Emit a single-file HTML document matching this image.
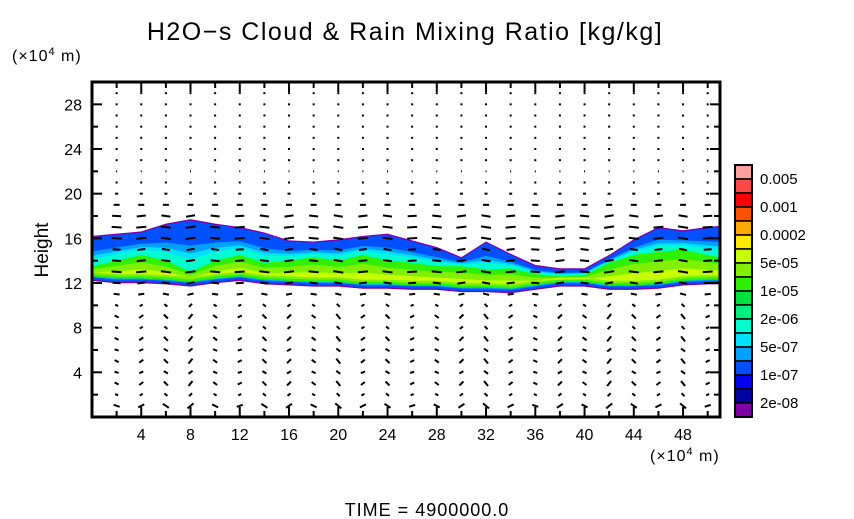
<!DOCTYPE html>
<html><head><meta charset="utf-8"><style>
body{margin:0;background:#fff;}
svg{display:block;font-family:"Liberation Sans",sans-serif;}
</style></head><body>
<svg id="chart" width="854" height="519" viewBox="0 0 854 519">
<text x="405" y="40" font-size="25" text-anchor="middle" letter-spacing="1.5">H2O−s Cloud &amp; Rain Mixing Ratio [kg/kg]</text>
<text x="12" y="61" font-size="16" letter-spacing="1">(×10<tspan font-size="11" dy="-6">4</tspan><tspan dy="6"> m)</tspan></text>
<text x="48" y="250" font-size="19" text-anchor="middle" transform="rotate(-90 48 250)">Height</text>
<text x="650" y="461" font-size="16" letter-spacing="1">(×10<tspan font-size="11" dy="-6">4</tspan><tspan dy="6"> m)</tspan></text>
<text x="427" y="516" font-size="18" text-anchor="middle" letter-spacing="1">TIME = 4900000.0</text>
<g id="cloud"></g>
<g id="vectors"></g>
<g id="axes"></g>
<g id="cbar"></g>
</svg>
<script>
const xTicks=[4,8,12,16,20,24,28,32,36,40,44,48];
const yTicks=[4,8,12,16,20,24,28];
const cloudX=[0,2,4,6,8,10,12,14,16,18,20,22,24,26,28,30,32,34,36,38,40,42,44,46,48,50,51];
const cloudTop=[16.1,16.3,16.5,17.2,17.6,17.2,16.9,16.4,15.7,15.6,15.8,16.1,16.3,15.7,15.1,14.2,15.6,14.5,13.5,13.2,13.2,14.4,15.8,16.9,16.6,16.9,17.0];
const cloudBot=[12.3,12.1,12.1,12.0,11.8,12.1,12.3,12.0,11.9,11.8,11.8,11.6,11.6,11.5,11.5,11.3,11.3,11.2,11.5,11.8,11.8,11.5,11.5,11.6,11.9,12.0,12.0];
const greenTop=[13.5,14.0,14.5,14.0,13.0,14.0,14.5,13.8,14.0,14.3,14.0,14.5,14.0,13.8,13.5,13.5,13.2,13.3,12.8,12.6,12.7,13.8,14.5,14.8,15.0,14.5,14.3];
const uProfile=[0,-6,-3,-4,-4,-4,-4,-4,-3,-4,-3,-6,-8,-10,-9,-8,-10,-10,-9,-6,-3,-2,-1,0,0,0,0,0,0,0];
const vColumn=[2,-3,4,-5,3,-2,4,-4,3,5,-3,4,-2,3,-4,5,-3,2,-4,3,-5,4,-3,5,-2];
const cbColors=["#ffa0a0","#ff4848","#ff0000","#ff5000","#ffa800","#ffe800","#c8ff00","#80f000","#30f000","#00e040","#00f080","#00ffd0","#00e0ff","#00a0ff","#0050ff","#0000f0","#0000a0","#8000a8"];
const cbLabels=["0.005","0.001","0.0002","5e-05","1e-05","2e-06","5e-07","1e-07","2e-08"];

const X0=92,X1=720,Y0=417,Y1=82,XMAX=51,YMAX=30;
const sx=v=>X0+v*(X1-X0)/XMAX, sy=v=>Y0-v*(Y0-Y1)/YMAX;
const NS="http://www.w3.org/2000/svg";
function mk(t,a,p){const e=document.createElementNS(NS,t);for(const k in a)e.setAttribute(k,a[k]);p.appendChild(e);return e;}

const cloud=document.getElementById('cloud');
const layers=[["#8000a8",0.1,1.0],["#0050ff",0,1.0],["#00a0ff",0.1,0.85],["#00e0ff",0.15,0.6],["#00ffd0",0.2,0.4]];
layers.forEach((L,li)=>{
  const off=li===0?0.12:0;
  let top=cloudX.map((x,i)=>{const t=cloudTop[i]+off;return sx(x)+","+sy(li<=1?t:(greenTop[i]+(t-greenTop[i])*L[2]*0.6))});
  let bot=cloudX.map((x,i)=>sx(x)+","+sy(cloudBot[i]-off+(li>1?0.1*li:0))).reverse();
  const p=mk('polygon',{points:top.concat(bot).join(' '),fill:L[0]},cloud);
  
  
});
const gLayers=[["#30f000",1.0,0.3],["#80f000",0.7,0.5],["#c8ff00",0.4,0.7]];
gLayers.forEach(L=>{
  const top=cloudX.map((x,i)=>sx(x)+","+sy(cloudBot[i]+0.3+(greenTop[i]-cloudBot[i]-0.3)*L[1]));
  const bot=cloudX.map((x,i)=>sx(x)+","+sy(cloudBot[i]+L[2])).reverse();
  const p=mk('polygon',{points:top.concat(bot).join(' '),fill:L[0]},cloud);
  
  
});

const vec=document.getElementById('vectors');
for(let c=0;c<25;c++){
  const x=2+c*2;
  for(let h=1;h<=29;h++){
    const u=uProfile[h];
    const v=h<11?vColumn[c]*(h%2?1:0.6):vColumn[c]*0.3*(h<19?1:0);
    const cx=sx(x),cy=sy(h);
    if(Math.abs(u)<0.5&&Math.abs(v)<1.5){
      const d=mk('rect',{x:cx-1,y:cy-1,width:2,height:2,fill:"#000"},vec);
      
      
      continue;
    }
    const vv=h>=20?0:v;
    const x1=cx-u/2,y1=cy+vv/2,x2=cx+u/2,y2=cy-vv/2;
    const l=mk('line',{x1:x1,y1:y1,x2:x2,y2:y2,stroke:"#000","stroke-width":2},vec);
    
    
  }
}

const ax=document.getElementById('axes');
const fr=mk('rect',{x:X0,y:Y1,width:X1-X0,height:Y0-Y1,fill:"none",stroke:"#000","stroke-width":3},ax);


for(let v=2;v<YMAX;v+=2){
  const L=v%4===0?10:6;
  mk('line',{x1:X0,y1:sy(v),x2:X0+L,y2:sy(v),stroke:"#000","stroke-width":2},ax);
  mk('line',{x1:X1,y1:sy(v),x2:X1-L,y2:sy(v),stroke:"#000","stroke-width":2},ax);
}
for(let v=2;v<XMAX;v+=2){
  const L=v%4===0?10:6;
  mk('line',{x1:sx(v),y1:Y0,x2:sx(v),y2:Y0-L,stroke:"#000","stroke-width":2},ax);
  mk('line',{x1:sx(v),y1:Y1,x2:sx(v),y2:Y1+L,stroke:"#000","stroke-width":2},ax);
}
yTicks.forEach(v=>{
  const t=mk('text',{x:X0-10,y:sy(v)+6,"font-size":16,"text-anchor":"end"},ax);t.textContent=v;
  
  
});
xTicks.forEach(v=>{
  const t=mk('text',{x:sx(v),y:Y0+23,"font-size":16,"text-anchor":"middle"},ax);t.textContent=v;
  
  
});

const cb=document.getElementById('cbar');
const CT=165,CB=417,bh=(CB-CT)/cbColors.length;
cbColors.forEach((c,i)=>{
  const r=mk('rect',{x:735,y:CT+i*bh,width:17,height:bh,fill:c,stroke:"#000","stroke-width":1.5},cb);
  
  
});
mk('rect',{x:735,y:CT,width:17,height:CB-CT,fill:"none",stroke:"#000","stroke-width":2},cb);
cbLabels.forEach((s,i)=>{
  const t=mk('text',{x:760,y:CT+(2*i+1)*bh+5,"font-size":15},cb);t.textContent=s;
  
  
});
</script>
</body></html>
